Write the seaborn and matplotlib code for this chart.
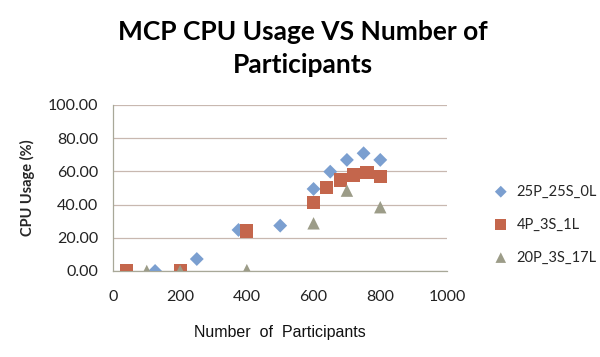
import pandas as pd
import numpy as np
import matplotlib.pyplot as plt
import seaborn as sns

# series
x_25p = [125, 250, 375, 500, 600, 650, 700, 750, 800]
y_25p = [0.0, 7.2, 24.7, 27.3, 49.4, 59.8, 66.9, 70.9, 66.9]

x_4p = [40, 200, 400, 600, 640, 680, 720, 760, 800]
y_4p = [0.0, 0.0, 24.1, 41.4, 50.4, 54.8, 57.8, 59.2, 56.8]

x_20p = [100, 200, 400, 600, 700, 800]
y_20p = [0.0, 0.0, 0.5, 28.7, 48.4, 38.4]

series_names = ["25P_25S_0L", "4P_3S_1L", "20P_3S_17L"]
x_ticks = [0, 200, 400, 600, 800, 1000]
y_ticks = [0, 20, 40, 60, 80, 100]

df = pd.concat([
    pd.DataFrame({"x": x_25p, "y": y_25p, "series": series_names[0]}),
    pd.DataFrame({"x": x_4p, "y": y_4p, "series": series_names[1]}),
    pd.DataFrame({"x": x_20p, "y": y_20p, "series": series_names[2]}),
])

sns.set_style("white")
plt.rcParams["font.family"] = ["Lato", "DejaVu Sans"]

palette = {"25P_25S_0L": "#7B9FD0", "4P_3S_1L": "#C4664C", "20P_3S_17L": "#9C9C88"}
markers = {"25P_25S_0L": "D", "4P_3S_1L": "s", "20P_3S_17L": "^"}
sizes = {"25P_25S_0L": 50, "4P_3S_1L": 90, "20P_3S_17L": 80}

fig = plt.figure(figsize=(6, 3.57), dpi=100)
ax = fig.add_axes([0.189, 0.241, 0.556, 0.465])

for name in series_names:
    sub = df[df["series"] == name]
    sns.scatterplot(data=sub, x="x", y="y", ax=ax, color=palette[name],
                    marker=markers[name], s=sizes[name], edgecolor="none",
                    label=name, zorder=3)

ax.set_xlim(0, 1000)
ax.set_ylim(0, 100)
ax.set_xticks(x_ticks)
ax.set_yticks(y_ticks)
ax.set_yticklabels([f"{v:.2f}" for v in y_ticks])
ax.tick_params(axis="both", labelsize=11.5, colors="#222222", length=0)
ax.tick_params(axis="y", pad=11)
ax.tick_params(axis="x", pad=14)
ax.yaxis.grid(True, color="#C8B8B0", linewidth=0.9)
ax.set_axisbelow(True)
for side in ["top", "right"]:
    ax.spines[side].set_visible(False)
for side in ["left", "bottom"]:
    ax.spines[side].set_color("#A8A898")
    ax.spines[side].set_linewidth(0.9)

ax.set_xlabel("Number  of  Participants", fontsize=11.5, labelpad=15,
              family=["Liberation Sans", "DejaVu Sans"], color="#111111")
ax.set_ylabel("CPU Usage (%)", fontsize=10.5, fontweight="bold", labelpad=9)

fig.suptitle("MCP CPU Usage VS Number of\nParticipants", fontsize=19,
             fontweight="bold", x=0.505, y=0.945, linespacing=1.45,
             color="black")

ax.legend(loc="center left", bbox_to_anchor=(1.1, 0.28), frameon=False,
          fontsize=10.5, handletextpad=0.1, labelspacing=1.3, borderaxespad=0,
          markerscale=0.85)

fig.savefig("out.png", dpi=100)
